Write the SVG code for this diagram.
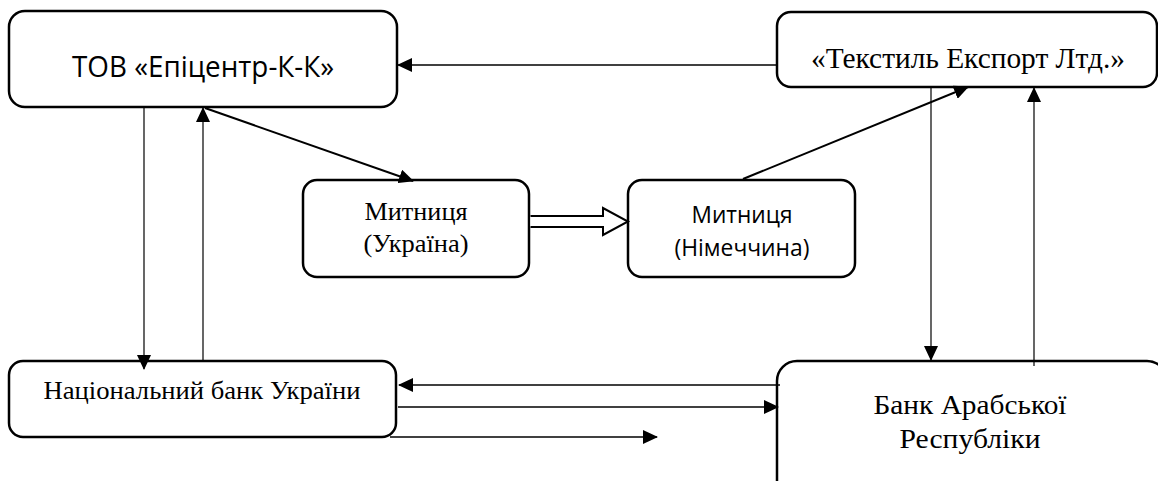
<svg xmlns="http://www.w3.org/2000/svg" width="1158" height="481" viewBox="0 0 1158 481">
<style>
.box{fill:#fff;stroke:#000;stroke-width:2.5}
.serif{font-family:"Liberation Serif","Times New Roman",serif;fill:#000}
.sans{font-family:"Open Sans","Noto Sans",sans-serif;fill:#000}
.c{fill:none;stroke:#000}
.thin{stroke-width:1.2}
.mid{stroke-width:1.5}
.thick{stroke-width:2}
</style>
<defs>
<marker id="ah" viewBox="0 0 15 14" markerWidth="15" markerHeight="14" refX="14" refY="7" orient="auto" markerUnits="userSpaceOnUse">
<path d="M0,0 L15,7 L0,14 z" fill="#000"/>
</marker>
</defs>
<rect width="1158" height="481" fill="#fff"/>
<g id="tov">
<rect class="box" x="9" y="11" width="388" height="96" rx="16"/>
<text class="sans" x="203" y="77" font-size="29" text-anchor="middle" textLength="262" lengthAdjust="spacingAndGlyphs">ТОВ «Епіцентр-К-К»</text>
</g>
<g id="tekstyl">
<rect class="box" x="777" y="12" width="380" height="75" rx="14"/>
<text class="serif" x="968" y="68" font-size="30" text-anchor="middle" textLength="314" lengthAdjust="spacingAndGlyphs">«Текстиль Експорт Лтд.»</text>
</g>
<g id="mytnytsia-ua">
<rect class="box" x="303" y="180" width="226" height="97" rx="14"/>
<text class="serif" x="416" y="220" font-size="26" text-anchor="middle" textLength="103" lengthAdjust="spacingAndGlyphs">Митниця</text>
<text class="serif" x="416" y="252" font-size="26" text-anchor="middle" textLength="105" lengthAdjust="spacingAndGlyphs">(Україна)</text>
</g>
<g id="mytnytsia-de">
<rect class="box" x="628" y="180" width="227" height="97" rx="14"/>
<text class="sans" x="742" y="223" font-size="23" text-anchor="middle" textLength="101" lengthAdjust="spacingAndGlyphs">Митниця</text>
<text class="sans" x="742" y="256" font-size="23" text-anchor="middle" textLength="135" lengthAdjust="spacingAndGlyphs">(Німеччина)</text>
</g>
<g id="nbu">
<rect class="box" x="9" y="361" width="387" height="76" rx="14"/>
<text class="serif" x="202" y="399" font-size="26" text-anchor="middle" textLength="317" lengthAdjust="spacingAndGlyphs">Національний банк України</text>
</g>
<g id="bank-arab">
<rect class="box" x="777" y="361" width="390" height="140" rx="20"/>
<text class="serif" x="970" y="414" font-size="27" text-anchor="middle" textLength="193" lengthAdjust="spacingAndGlyphs">Банк Арабської</text>
<text class="serif" x="970" y="448" font-size="27" text-anchor="middle" textLength="141" lengthAdjust="spacingAndGlyphs">Республіки</text>
</g>
<g id="connectors">
<line class="c thin" x1="144" y1="108" x2="144" y2="369" marker-end="url(#ah)"/>
<line class="c thin" x1="203" y1="360" x2="203" y2="108" marker-end="url(#ah)"/>
<line class="c thick" x1="205" y1="108" x2="413" y2="181" marker-end="url(#ah)"/>
<line class="c thick" x1="743" y1="179" x2="968" y2="87" marker-end="url(#ah)"/>
<line class="c thin" x1="931" y1="88" x2="931" y2="360" marker-end="url(#ah)"/>
<line class="c thin" x1="1034" y1="366" x2="1034" y2="88" marker-end="url(#ah)"/>
<line class="c mid" x1="776" y1="65" x2="398" y2="65" marker-end="url(#ah)"/>
<line class="c mid" x1="780" y1="385" x2="399" y2="385" marker-end="url(#ah)"/>
<line class="c mid" x1="398" y1="407" x2="778" y2="407" marker-end="url(#ah)"/>
<line class="c mid" x1="390" y1="437" x2="657" y2="437" marker-end="url(#ah)"/>
<path d="M530.5,216 H603 V208 L628,221.5 L603,235 V227 H530.5" fill="#fff" stroke="#000" stroke-width="2"/>
</g>
</svg>
